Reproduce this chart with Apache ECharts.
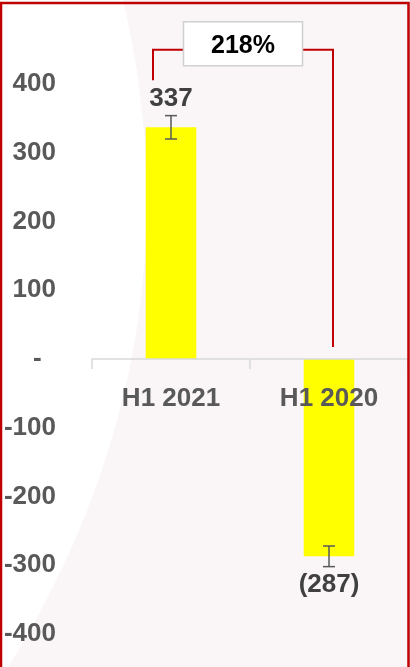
<!DOCTYPE html>
<html>
<head>
<meta charset="utf-8">
<script src="https://cdn.jsdelivr.net/npm/echarts@6/dist/echarts.min.js"></script>
<style>
  html, body { margin: 0; padding: 0; background: #fff; }
  #chart { width: 410px; height: 667px; }
</style>
</head>
<body>
<div id="chart"></div>
<script>
const categories = ['H1 2021', 'H1 2020'];
const values = [337, -287];
const errors = [17, 15];
const yTicks = [-400, -300, -200, -100, 0, 100, 200, 300, 400];
const growthLabel = '218%';

const FONT = '"Liberation Sans", Arial, sans-serif';
const GRAY = '#595959';
const RED = '#c00000';

const GRID_TOP = 84;
const GRID_BOTTOM = 33;
const CHART_H = 667;

const chart = echarts.init(document.getElementById('chart'));

function fmtValue(v){
    if(v < 0){
        return '(' + Math.abs(v) + ')'
    }
    return String(v)
}

// white curved wedge in the background (decoration)
function wedgePoints(){
    const pts = [[0, 0], [123, 0]]
    const a = [123, 0], b = [168, 190], c = [160, 430], d = [0, 680]
    for(let i = 1; i <= 40; i++){
        const t = i / 40, u = 1 - t
        pts.push([
            u*u*u*a[0] + 3*u*u*t*b[0] + 3*u*t*t*c[0] + t*t*t*d[0],
            u*u*u*a[1] + 3*u*u*t*b[1] + 3*u*t*t*c[1] + t*t*t*d[1]
        ])
    }
    return pts
}

const barData = values.map(function(v){
    return {
        value: v,
        label: {
            position: v >= 0 ? 'top' : 'bottom',
            distance: v >= 0 ? 15 : 16
        }
    }
})

const errData = values.map(function(v, i){
    return [i, v - errors[i], v + errors[i]]
})

// move the category axis up to the zero line
const yMin = yTicks[0];
const yMax = yTicks[yTicks.length - 1];
const gridH = CHART_H - GRID_TOP - GRID_BOTTOM;
const zeroOffset = -(0 - yMin) / (yMax - yMin) * gridH;

const baseGraphic = [
    {
        type: 'polygon',
        z: -1,
        shape: { points: wedgePoints() },
        style: { fill: '#ffffff' }
    },
    {
        type: 'rect',
        z: 100,
        shape: { x: 1, y: 3, width: 407.5, height: 680 },
        style: { fill: 'none', stroke: RED, lineWidth: 2.5 }
    }
]

chart.setOption({
    backgroundColor: '#faf6f7',
    animation: false,
    grid: {
        left: 92,
        right: 2,
        top: GRID_TOP,
        bottom: GRID_BOTTOM,
        outerBoundsMode: 'none',
        containLabel: false
    },
    xAxis: {
        type: 'category',
        data: categories,
        position: 'bottom',
        offset: zeroOffset,
        z: 10,
        axisLine: { onZero: false, lineStyle: { color: '#d9d9d9', width: 1.5 } },
        axisTick: { show: true, length: 10, lineStyle: { color: '#d9d9d9', width: 1.5 } },
        axisLabel: {
            margin: 27,
            color: GRAY,
            fontFamily: FONT,
            fontWeight: 'bold',
            fontSize: 26
        }
    },
    yAxis: {
        type: 'value',
        min: yMin,
        max: yMax,
        interval: 100,
        splitLine: { show: false },
        axisLine: { show: false },
        axisTick: { show: false },
        axisLabel: {
            margin: 36,
            color: GRAY,
            fontFamily: FONT,
            fontWeight: 'bold',
            fontSize: 26,
            formatter: function(v){
                if(v === 0){
                    return '-  '
                }
                return String(v)
            }
        }
    },
    graphic: baseGraphic,
    series: [
        {
            type: 'bar',
            data: barData,
            barWidth: '32%',
            itemStyle: { color: '#ffff00' },
            label: {
                show: true,
                color: '#404040',
                fontFamily: FONT,
                fontWeight: 'bold',
                fontSize: 26,
                formatter: function(p){
                    return fmtValue(p.value)
                }
            }
        },
        {
            type: 'custom',
            z: 5,
            data: errData,
            renderItem: function(params, api){
                const x = api.value(0)
                const lo = api.coord([x, api.value(1)])
                const hi = api.coord([x, api.value(2)])
                const cap = 6
                const style = { stroke: GRAY, lineWidth: 1.5, fill: 'none' }
                return {
                    type: 'group',
                    children: [
                        { type: 'line', shape: { x1: lo[0], y1: lo[1], x2: hi[0], y2: hi[1] }, style: style },
                        { type: 'line', shape: { x1: lo[0] - cap, y1: lo[1], x2: lo[0] + cap, y2: lo[1] }, style: style },
                        { type: 'line', shape: { x1: hi[0] - cap, y1: hi[1], x2: hi[0] + cap, y2: hi[1] }, style: style }
                    ]
                }
            }
        }
    ]
});

// growth bracket between the two bars
const p0 = chart.convertToPixel({ seriesIndex: 0 }, [0, values[0]])
const p1 = chart.convertToPixel({ seriesIndex: 0 }, [1, 0])
const lineY = chart.convertToPixel({ yAxisIndex: 0 }, 450)
const leftX = p0[0] - 18
const rightX = p1[0] + 4
const leftBottom = p0[1] - 47
const rightBottom = p1[1] - 12
const boxW = 119
const boxH = 44
const midX = (leftX + rightX) / 2
const boxTop = lineY - 28

chart.setOption({
    graphic: baseGraphic.concat([
        {
            type: 'polyline',
            z: 50,
            shape: { points: [[leftX, leftBottom], [leftX, lineY], [midX - boxW / 2, lineY]] },
            style: { stroke: RED, lineWidth: 2, fill: 'none' }
        },
        {
            type: 'polyline',
            z: 50,
            shape: { points: [[midX + boxW / 2, lineY], [rightX, lineY], [rightX, rightBottom]] },
            style: { stroke: RED, lineWidth: 2, fill: 'none' }
        },
        {
            type: 'rect',
            z: 51,
            shape: { x: midX - boxW / 2, y: boxTop, width: boxW, height: boxH },
            style: { fill: '#ffffff', stroke: '#d0d0d0', lineWidth: 1.5 }
        },
        {
            type: 'text',
            z: 52,
            x: midX,
            y: boxTop + boxH / 2 + 2,
            style: {
                text: growthLabel,
                fill: '#000000',
                font: 'bold 25px ' + FONT,
                align: 'center',
                verticalAlign: 'middle'
            }
        }
    ])
});
</script>
</body>
</html>
